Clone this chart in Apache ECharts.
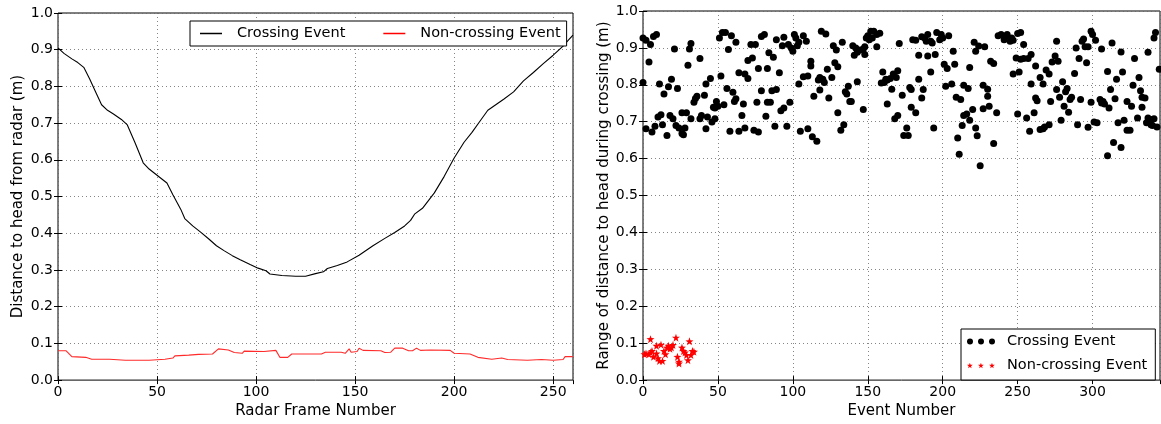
<!DOCTYPE html>
<html>
<head>
<meta charset="utf-8">
<script src="https://cdn.jsdelivr.net/npm/echarts@6/dist/echarts.min.js"></script>
<style>
  html, body { margin: 0; padding: 0; background: #fff; }
  #main { width: 1161px; height: 424px; }
</style>
</head>
<body>
<div id="main"></div>
<script>
// left panel: distance per radar frame (frame, metres)
var crossingDistance = [[0,0.905],[3,0.89],[7,0.875],[10,0.865],[13,0.852],[16,0.82],[19,0.785],[22,0.75],[25,0.735],[26,0.738],[28,0.725],[32,0.71],[35,0.695],[39,0.645],[43,0.592],[46,0.575],[50,0.558],[55,0.537],[58,0.505],[62,0.465],[64,0.44],[68,0.42],[72,0.403],[76,0.385],[80,0.366],[84,0.352],[88,0.339],[92,0.328],[97,0.315],[101,0.305],[105,0.298],[107,0.289],[113,0.285],[120,0.283],[125,0.283],[130,0.29],[134,0.295],[136,0.304],[141,0.312],[146,0.322],[152,0.34],[159,0.366],[165,0.386],[170,0.402],[175,0.42],[178,0.435],[180,0.452],[184,0.468],[190,0.51],[195,0.555],[200,0.605],[205,0.648],[209,0.675],[213,0.705],[217,0.735],[221,0.75],[225,0.765],[230,0.785],[235,0.815],[240,0.838],[245,0.862],[250,0.885],[255,0.91],[258,0.928],[260,0.94]];
var nonCrossingDistance = [[0,0.08],[4,0.08],[5,0.078],[7,0.064],[14,0.062],[17,0.057],[26,0.057],[34,0.054],[46,0.054],[54,0.057],[58,0.06],[59,0.066],[66,0.068],[71,0.07],[78,0.071],[79,0.066],[81,0.085],[86,0.082],[89,0.075],[93,0.073],[94,0.079],[104,0.078],[110,0.081],[111,0.076],[112,0.062],[116,0.062],[118,0.071],[122,0.071],[133,0.071],[135,0.076],[143,0.076],[145,0.073],[147,0.085],[148,0.076],[151,0.078],[152,0.087],[154,0.081],[163,0.08],[165,0.075],[168,0.076],[170,0.087],[174,0.087],[177,0.08],[179,0.08],[181,0.087],[183,0.081],[188,0.082],[198,0.081],[200,0.073],[208,0.071],[212,0.062],[219,0.057],[224,0.06],[227,0.056],[237,0.054],[244,0.056],[250,0.054],[255,0.056],[256,0.064],[260,0.064]];

// right panel: range per event (event, metres)
var crossingRange = [[0,0.927],[2,0.921],[5,0.909],[0,0.806],[2,0.681],[4,0.862],[6,0.672],[7,0.931],[9,0.936],[8,0.688],[11,0.802],[10,0.713],[12,0.719],[13,0.692],[14,0.775],[16,0.663],[17,0.795],[19,0.815],[18,0.717],[20,0.708],[21,0.897],[22,0.69],[23,0.79],[24,0.683],[26,0.668],[27,0.665],[26,0.724],[29,0.724],[28,0.683],[30,0.853],[31,0.897],[32,0.912],[32,0.708],[34,0.753],[35,0.763],[36,0.769],[38,0.708],[38,0.871],[39,0.717],[41,0.772],[42,0.681],[42,0.802],[43,0.713],[45,0.817],[46,0.699],[47,0.739],[48,0.737],[48,0.708],[49,0.755],[50,0.742],[51,0.927],[52,0.824],[53,0.942],[55,0.942],[54,0.746],[56,0.79],[57,0.896],[58,0.674],[59,0.933],[60,0.78],[61,0.755],[62,0.762],[62,0.915],[64,0.833],[64,0.674],[66,0.717],[67,0.748],[68,0.683],[68,0.829],[70,0.817],[70,0.866],[73,0.873],[72,0.909],[75,0.909],[74,0.677],[76,0.753],[77,0.844],[77,0.672],[79,0.931],[81,0.936],[79,0.784],[82,0.715],[83,0.844],[83,0.753],[84,0.887],
  [87,0.875],[91,0.833],[89,0.922],[94,0.929],[93,0.906],[97,0.909],[99,0.9],[100,0.891],[101,0.936],[102,0.927],[103,0.906],[104,0.915],[107,0.933],[109,0.918],[86,0.784],[89,0.787],[85,0.753],[88,0.688],[92,0.73],[94,0.737],[98,0.753],[96,0.688],[104,0.802],[105,0.674],[107,0.822],[110,0.824],[110,0.681],[112,0.864],[112,0.851],[113,0.659],[116,0.647],[114,0.769],[117,0.813],[118,0.82],[120,0.815],[121,0.806],[118,0.786],[119,0.945],[122,0.938],[123,0.842],[124,0.764],[126,0.82],[127,0.906],[129,0.894],[128,0.86],[130,0.849],[130,0.724],[133,0.915],[134,0.692],[132,0.677],[135,0.781],[137,0.796],[136,0.775],[138,0.755],[139,0.755],[140,0.906],[142,0.9],[141,0.88],[143,0.888],[145,0.894],[147,0.897],[148,0.903],[148,0.882],[143,0.808],[147,0.733],[149,0.927],[150,0.933],[152,0.945],[154,0.945],[156,0.936],[158,0.94],[151,0.922],[153,0.927],[156,0.903],[160,0.835],[162,0.815],[163,0.813],[165,0.817],[167,0.829],[169,0.82],[159,0.805],[161,0.806],[166,0.788],[163,0.748],[168,0.708],[170,0.717],[171,0.912],
  [170,0.838],[176,0.683],[174,0.663],[177,0.663],[173,0.772],[178,0.793],[179,0.787],[180,0.922],[182,0.921],[179,0.739],[182,0.724],[184,0.88],[184,0.815],[186,0.93],[188,0.927],[190,0.936],[187,0.787],[186,0.764],[189,0.918],[192,0.918],[193,0.913],[190,0.878],[192,0.835],[194,0.683],[195,0.882],[196,0.942],[199,0.936],[200,0.927],[198,0.922],[204,0.933],[201,0.856],[203,0.844],[202,0.796],[206,0.802],[207,0.891],[208,0.856],[209,0.766],[212,0.76],[210,0.656],[211,0.612],[213,0.69],[214,0.717],[216,0.721],[214,0.799],[217,0.79],[218,0.704],[218,0.847],[220,0.733],[221,0.915],[222,0.891],[222,0.683],[223,0.662],[225,0.581],[224,0.905],[228,0.903],[227,0.799],[230,0.788],[227,0.735],[230,0.769],[231,0.742],[232,0.864],[234,0.858],[234,0.641],[236,0.724],[237,0.933],[239,0.936],[241,0.922],[242,0.931],[243,0.936],[246,0.927],[247,0.921],[245,0.918],[247,0.829],[249,0.873],[251,0.835],[252,0.869],[250,0.939],[252,0.942],[254,0.909],[254,0.871],[257,0.871],[250,0.721],[256,0.71],[258,0.674],
  [259,0.882],[262,0.851],[259,0.802],[261,0.724],[262,0.764],[263,0.757],[265,0.82],[265,0.679],[267,0.681],[268,0.686],[271,0.692],[267,0.802],[269,0.84],[271,0.829],[272,0.755],[273,0.862],[275,0.878],[277,0.864],[276,0.787],[276,0.918],[278,0.766],[279,0.704],[280,0.808],[282,0.781],[283,0.79],[281,0.742],[284,0.726],[285,0.76],[286,0.766],[288,0.831],[289,0.9],[290,0.692],[291,0.871],[292,0.76],[293,0.918],[294,0.924],[295,0.903],[297,0.903],[296,0.86],[297,0.685],[299,0.945],[300,0.936],[299,0.753],[301,0.699],[303,0.697],[302,0.921],[305,0.76],[307,0.755],[308,0.748],[306,0.751],[306,0.897],[310,0.836],[310,0.608],[311,0.737],[312,0.787],[313,0.913],[314,0.644],[315,0.762],[316,0.815],[317,0.697],[319,0.889],[319,0.63],[320,0.835],[321,0.704],[323,0.677],[325,0.677],[323,0.755],[326,0.742],[327,0.799],[328,0.871],[330,0.71],[331,0.82],[332,0.784],[333,0.739],[333,0.766],[335,0.764],[336,0.697],[337,0.71],[339,0.706],[341,0.708],[339,0.692],[340,0.69],[337,0.888],[341,0.927],[342,0.942],[343,0.686],[344.5,0.842]];
var nonCrossingRange = [[1,0.07],[2,0.072],[4,0.07],[5,0.075],[5,0.111],[6,0.079],[7,0.063],[9,0.093],[9,0.072],[10,0.059],[11,0.052],[13,0.052],[12,0.096],[14,0.079],[15,0.07],[16,0.088],[17,0.093],[18,0.085],[19,0.088],[20,0.095],[22,0.115],[23,0.063],[24,0.05],[24,0.045],[26,0.088],[27,0.079],[28,0.075],[30,0.054],[29,0.068],[31,0.105],[32,0.068],[33,0.079],[34,0.077]];

var font = "DejaVu Sans";

// star outline centred on (cx, cy)
function starPath(cx, cy, r) {
  var d = "";
  for (var i = 0; i < 10; i++) {
    var a = -Math.PI / 2 + i * Math.PI / 5;
    var rr = i % 2 ? r * 0.4 : r;
    d += (i ? "L" : "M") + (cx + rr * Math.cos(a)).toFixed(2) + "," + (cy + rr * Math.sin(a)).toFixed(2);
  }
  return d + "Z";
}
function dotPath(cx, cy, r) {
  return "M" + (cx - r) + "," + cy + "a" + r + "," + r + " 0 1,0 " + 2 * r + ",0a" + r + "," + r + " 0 1,0 " + -2 * r + ",0Z";
}
// trailing moveTo widens the icon box so the text sits further right
var lineIcon = "path://M0,0L22,0L22,1.5L0,1.5ZM32,0";
var dotsIcon = "path://" + dotPath(3, 3, 3) + dotPath(14, 3, 3) + dotPath(25, 3, 3) + "M35,3";
var starsIcon = "path://" + starPath(3, 3, 3) + starPath(14, 3, 3) + starPath(25, 3, 3) + "M35,3";

function xAxisOf(grid, max, name, top) {
  return {
    type: "value", gridIndex: grid, min: 0, max: max, interval: 50,
    position: top ? "top" : "bottom",
    name: top ? "" : name, nameLocation: "middle", nameGap: 19,
    nameTextStyle: { fontFamily: font, fontSize: 15, color: "#000" },
    axisLine: { show: false },
    axisTick: { show: true, inside: true, length: 4, lineStyle: { color: "#000" } },
    axisLabel: { show: !top, showMaxLabel: false, margin: 5, fontFamily: font, fontSize: 14, color: "#000" },
    splitLine: { show: !top, lineStyle: { color: "#666", type: [1, 3], width: 0.8 } },
  };
}
function yAxisOf(grid, name, gap, right) {
  return {
    type: "value", gridIndex: grid, min: 0, max: 1, interval: 0.1,
    position: right ? "right" : "left",
    name: right ? "" : name, nameLocation: "middle", nameGap: gap,
    nameTextStyle: { fontFamily: font, fontSize: 15, color: "#000" },
    axisLine: { show: false },
    axisTick: { show: true, inside: true, length: 4, lineStyle: { color: "#000" } },
    axisLabel: {
      show: !right, margin: 5, fontFamily: font, fontSize: 14, color: "#000",
      formatter: function (v) { return v.toFixed(1); },
    },
    splitLine: { show: !right, lineStyle: { color: "#666", type: [1, 3], width: 0.8 } },
  };
}

var myChart = echarts.init(document.getElementById("main"));
myChart.setOption({
  animation: false,
  textStyle: { fontFamily: font },
  grid: [
    { left: 58, right: 588, top: 13, bottom: 40, show: true, borderColor: "#000", borderWidth: 1 },
    { left: 643, right: 1, top: 11, bottom: 40, show: true, borderColor: "#000", borderWidth: 1 },
  ],
  xAxis: [
    xAxisOf(0, 260, "Radar Frame Number", false),
    xAxisOf(0, 260, "", true),
    xAxisOf(1, 345, "Event Number", false),
    xAxisOf(1, 345, "", true),
  ],
  yAxis: [
    yAxisOf(0, "Distance to head from radar (m)", 32, false),
    yAxisOf(0, "", 0, true),
    yAxisOf(1, "Range of distance to head during crossing (m)", 23, false),
    yAxisOf(1, "", 0, true),
  ],
  legend: [
    {
      left: 190, top: 21, orient: "horizontal",
      padding: [5, 6, 5, 10], itemGap: 38,
      itemWidth: 32, itemHeight: 1.5,
      backgroundColor: "#fff", borderColor: "#000", borderWidth: 1, borderRadius: 0,
      itemStyle: { borderWidth: 0 },
      textStyle: { fontFamily: font, fontSize: 14.5, color: "#000" },
      data: [
        { name: "Crossing Event", icon: lineIcon },
        { name: "Non-crossing Event", icon: lineIcon },
      ],
    },
    {
      left: 961, top: 329, orient: "vertical",
      padding: [5, 8, 7, 6], itemGap: 9,
      itemWidth: 35, itemHeight: 6,
      backgroundColor: "#fff", borderColor: "#000", borderWidth: 1, borderRadius: 0,
      itemStyle: { borderWidth: 0 },
      textStyle: { fontFamily: font, fontSize: 14.5, color: "#000" },
      data: [
        { name: "Crossing Event", icon: dotsIcon },
        { name: "Non-crossing Event", icon: starsIcon },
      ],
    },
  ],
  series: [
    {
      name: "Crossing Event", type: "line", xAxisIndex: 0, yAxisIndex: 0,
      data: crossingDistance, showSymbol: false, color: "#000",
      lineStyle: { color: "#000", width: 1.1 },
    },
    {
      name: "Non-crossing Event", type: "line", xAxisIndex: 0, yAxisIndex: 0,
      data: nonCrossingDistance, showSymbol: false, color: "#ff0000",
      lineStyle: { color: "#ff2a2a", width: 1.1 },
    },
    {
      name: "Crossing Event", type: "scatter", xAxisIndex: 2, yAxisIndex: 2,
      data: crossingRange, symbol: "circle", symbolSize: 7,
      itemStyle: { color: "#000", opacity: 1 },
    },
    {
      name: "Non-crossing Event", type: "scatter", xAxisIndex: 2, yAxisIndex: 2,
      data: nonCrossingRange, symbol: "path://" + starPath(0, 0, 5), symbolSize: 8,
      itemStyle: { color: "#ff0000", opacity: 1 },
    },
  ],
});
</script>
</body>
</html>
